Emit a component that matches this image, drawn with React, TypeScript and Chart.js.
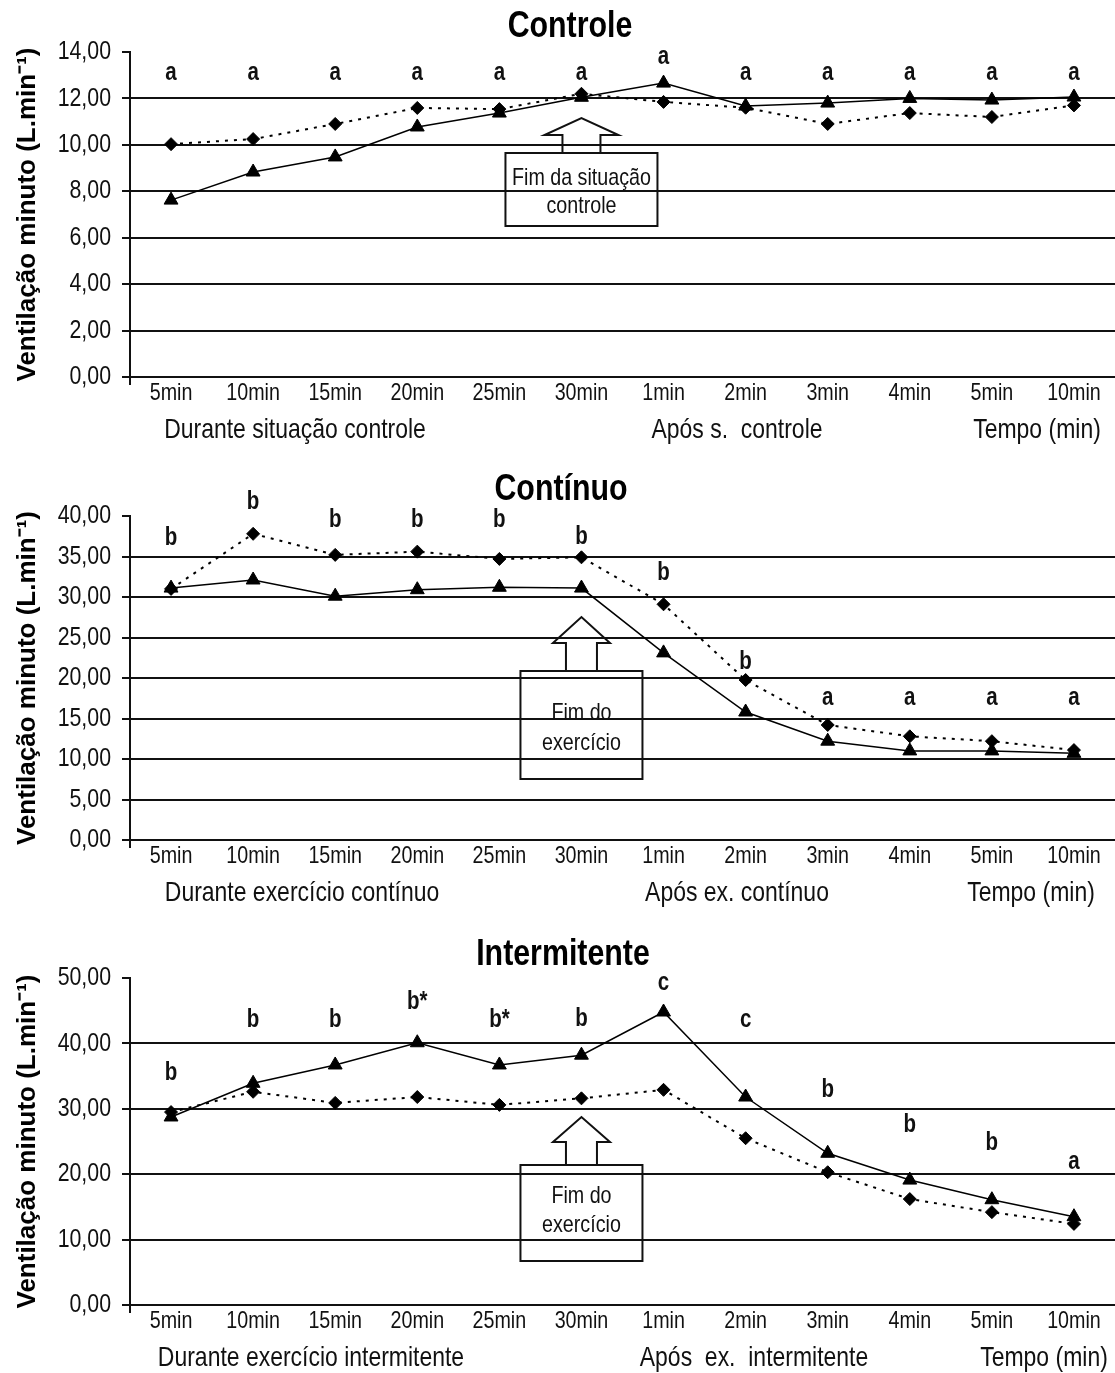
import React, { useEffect, useRef } from 'react';
import { Chart, registerables } from 'chart.js';

Chart.register(...registerables);

// ---------------- data ----------------
const categories = ['5min', '10min', '15min', '20min', '25min', '30min', '1min', '2min', '3min', '4min', '5min', '10min'];

// Controle
const controleTri = [7.62, 8.83, 9.48, 10.77, 11.37, 12.05, 12.66, 11.67, 11.8, 12.0, 11.93, 12.06];
const controleDia = [10.03, 10.25, 10.9, 11.59, 11.54, 12.2, 11.85, 11.6, 10.9, 11.37, 11.2, 11.7];
const controleLetters = ['a', 'a', 'a', 'a', 'a', 'a', 'a', 'a', 'a', 'a', 'a', 'a'];
const controleLetterY = [13.1, 13.1, 13.1, 13.1, 13.1, 13.1, 13.78, 13.1, 13.1, 13.1, 13.1, 13.1];
const controleTicks = { max: 14, step: 2 };

// Contínuo
const continuoTri = [31.1, 32.1, 30.1, 30.9, 31.2, 31.1, 23.1, 15.8, 12.2, 11.0, 11.0, 10.7];
const continuoDia = [31.0, 37.8, 35.2, 35.6, 34.7, 34.9, 29.1, 19.75, 14.2, 12.8, 12.2, 11.1];
const continuoLetters = ['b', 'b', 'b', 'b', 'b', 'b', 'b', 'b', 'a', 'a', 'a', 'a'];
const continuoLetterY = [37.3, 41.7, 39.5, 39.5, 39.5, 37.4, 33.0, 22.0, 17.5, 17.5, 17.5, 17.5];
const continuoTicks = { max: 40, step: 5 };

// Intermitente
const intermTri = [28.75, 33.9, 36.7, 40.1, 36.7, 38.2, 44.8, 31.8, 23.2, 19.1, 16.1, 13.5];
const intermDia = [29.5, 32.6, 30.9, 31.8, 30.6, 31.6, 32.9, 25.5, 20.3, 16.2, 14.2, 12.4];
const intermLetters = ['b', 'b', 'b', 'b*', 'b*', 'b', 'c', 'c', 'b', 'b', 'b', 'a'];
const intermLetterY = [35.5, 43.6, 43.6, 46.3, 43.6, 43.7, 49.2, 43.6, 32.9, 27.5, 24.8, 21.9];
const intermTicks = { max: 50, step: 10 };

const yTitle = 'Ventilação minuto (L.min⁻¹)';

// ---------------- styling / layout ----------------
const SANS = "'Liberation Sans', Arial, sans-serif";
const NARROW_X = 0.82; // horizontal squeeze to imitate a narrow face
const INK = '#111';

type Panel = {
  title: string;
  titleX: number;
  titleBase: number;
  top: number;
  h: number;
  padTop: number;
  xAxisH: number;
  tri: number[];
  dia: number[];
  letters: string[];
  letterY: number[];
  max: number;
  step: number;
  groups: { text: string; x: number }[];
  groupBase: number;
  box: {
    tip: number;
    shoulder: number;
    boxTop: number;
    boxBottom: number;
    boxHalf: number;
    shaftHalf: number;
    headHalf: number;
    lines: string[];
    lineBase: number[];
  };
};

const panels: Panel[] = [
  {
    title: 'Controle', titleX: 570, titleBase: 37, top: 0, h: 460, padTop: 52, xAxisH: 83,
    tri: controleTri, dia: controleDia, letters: controleLetters, letterY: controleLetterY,
    max: controleTicks.max, step: controleTicks.step,
    groups: [
      { text: 'Durante situação controle', x: 295 },
      { text: 'Após s.  controle', x: 737 },
      { text: 'Tempo (min)', x: 1037 },
    ],
    groupBase: 438,
    box: { tip: 118, shoulder: 135, boxTop: 153, boxBottom: 226, boxHalf: 76, shaftHalf: 19, headHalf: 37, lines: ['Fim da situação', 'controle'], lineBase: [185, 213] },
  },
  {
    title: 'Contínuo', titleX: 561, titleBase: 40, top: 460, h: 460, padTop: 56, xAxisH: 80,
    tri: continuoTri, dia: continuoDia, letters: continuoLetters, letterY: continuoLetterY,
    max: continuoTicks.max, step: continuoTicks.step,
    groups: [
      { text: 'Durante exercício contínuo', x: 302 },
      { text: 'Após ex. contínuo', x: 737 },
      { text: 'Tempo (min)', x: 1031 },
    ],
    groupBase: 441,
    box: { tip: 157, shoulder: 183, boxTop: 211, boxBottom: 319, boxHalf: 61, shaftHalf: 15.5, headHalf: 28.5, lines: ['Fim do', 'exercício'], lineBase: [260, 290] },
  },
  {
    title: 'Intermitente', titleX: 563, titleBase: 45, top: 920, h: 453, padTop: 58, xAxisH: 68,
    tri: intermTri, dia: intermDia, letters: intermLetters, letterY: intermLetterY,
    max: intermTicks.max, step: intermTicks.step,
    groups: [
      { text: 'Durante exercício intermitente', x: 311 },
      { text: 'Após  ex.  intermitente', x: 754 },
      { text: 'Tempo (min)', x: 1044 },
    ],
    groupBase: 446,
    box: { tip: 197, shoulder: 222, boxTop: 245, boxBottom: 341, boxHalf: 61, shaftHalf: 15.5, headHalf: 28.5, lines: ['Fim do', 'exercício'], lineBase: [283, 312] },
  },
];

function squeezed(ctx: CanvasRenderingContext2D, text: string, x: number, y: number) {
  ctx.save();
  ctx.translate(x, y);
  ctx.scale(NARROW_X, 1);
  ctx.fillText(text, 0, 0);
  ctx.restore();
}

function makeDecor(p: Panel) {
  return {
    id: 'decor',
    afterDatasetsDraw(chart: any) {
      const ctx: CanvasRenderingContext2D = chart.ctx;
      const xs = chart.scales.x;
      const ys = chart.scales.y;
      const area = chart.chartArea;
      ctx.save();
      // y axis extension below zero
      ctx.strokeStyle = INK;
      ctx.lineWidth = 2;
      ctx.beginPath();
      ctx.moveTo(area.left, area.bottom);
      ctx.lineTo(area.left, area.bottom + 8);
      ctx.stroke();

      ctx.fillStyle = INK;

      // y tick labels (from the scale's own ticks)
      ctx.font = `26px ${SANS}`;
      ctx.textAlign = 'right';
      ctx.textBaseline = 'middle';
      ys.ticks.forEach((t: any) => {
        squeezed(ctx, Number(t.value).toFixed(2).replace('.', ','), area.left - 19, ys.getPixelForValue(t.value));
      });

      // x tick labels (category scale)
      ctx.font = `24px ${SANS}`;
      ctx.textAlign = 'center';
      ctx.textBaseline = 'alphabetic';
      xs.ticks.forEach((t: any, i: number) => {
        squeezed(ctx, String(xs.getLabelForValue(t.value)), xs.getPixelForValue(i), area.bottom + 23);
      });

      // significance letters
      ctx.font = `bold 25px ${SANS}`;
      ctx.textAlign = 'center';
      ctx.textBaseline = 'middle';
      p.letters.forEach((l, i) => {
        squeezed(ctx, l, xs.getPixelForValue(i), ys.getPixelForValue(p.letterY[i]));
      });

      // arrow + box
      const b = p.box;
      const cx = xs.getPixelForValue(5);
      ctx.lineWidth = 2;
      ctx.strokeStyle = INK;
      ctx.beginPath();
      ctx.moveTo(cx - b.shaftHalf, b.boxTop);
      ctx.lineTo(cx - b.shaftHalf, b.shoulder);
      ctx.lineTo(cx - b.headHalf, b.shoulder);
      ctx.lineTo(cx, b.tip);
      ctx.lineTo(cx + b.headHalf, b.shoulder);
      ctx.lineTo(cx + b.shaftHalf, b.shoulder);
      ctx.lineTo(cx + b.shaftHalf, b.boxTop);
      ctx.stroke();
      ctx.strokeRect(cx - b.boxHalf, b.boxTop, b.boxHalf * 2, b.boxBottom - b.boxTop);
      ctx.font = `24px ${SANS}`;
      ctx.textBaseline = 'alphabetic';
      b.lines.forEach((t, i) => squeezed(ctx, t, cx, b.lineBase[i]));

      // title
      ctx.font = `bold 37px ${SANS}`;
      ctx.fillStyle = '#000';
      squeezed(ctx, p.title, p.titleX, p.titleBase);

      // group labels
      ctx.font = `28px ${SANS}`;
      ctx.fillStyle = INK;
      p.groups.forEach((g) => squeezed(ctx, g.text, g.x, p.groupBase));

      // y title
      ctx.save();
      ctx.translate(28, (area.top + area.bottom) / 2);
      ctx.rotate(-Math.PI / 2);
      ctx.font = `bold 26px ${SANS}`;
      ctx.fillStyle = '#000';
      ctx.textBaseline = 'middle';
      ctx.fillText(yTitle, 0, 0);
      ctx.restore();

      ctx.restore();
    },
  };
}

function makeConfig(p: Panel): any {
  return {
    type: 'line',
    data: {
      labels: categories,
      datasets: [
        {
          data: p.tri,
          borderColor: '#000',
          backgroundColor: '#000',
          borderWidth: 1.5,
          pointStyle: 'triangle',
          pointRadius: 8,
          pointBorderWidth: 1,
          tension: 0,
          clip: false,
        },
        {
          data: p.dia,
          borderColor: '#000',
          backgroundColor: '#000',
          borderWidth: 2,
          borderDash: [3, 6],
          pointStyle: 'rectRot',
          pointRadius: 6.5,
          pointBorderWidth: 1,
          tension: 0,
          clip: false,
        },
      ],
    },
    options: {
      responsive: false,
      animation: false,
      events: [],
      layout: { autoPadding: false, padding: { top: p.padTop, left: 0, right: 0, bottom: 0 } },
      plugins: { legend: { display: false }, tooltip: { enabled: false }, title: { display: false } },
      scales: {
        x: {
          type: 'category',
          offset: true,
          grid: { display: false },
          border: { display: false },
          ticks: { display: false, autoSkip: false, maxRotation: 0 },
          afterFit: (s: any) => { s.height = p.xAxisH; },
        },
        y: {
          min: 0,
          max: p.max,
          ticks: { display: false, stepSize: p.step },
          grid: {
            color: (c: any) => (c.tick && c.tick.value === p.max ? 'rgba(0,0,0,0)' : INK),
            lineWidth: 2,
            tickLength: 8,
            tickColor: INK,
            tickWidth: 2,
          },
          border: { display: true, color: INK, width: 2 },
          afterFit: (s: any) => { s.width = 130; },
        },
      },
    },
    plugins: [makeDecor(p)],
  };
}

export default function App() {
  const r0 = useRef<HTMLCanvasElement>(null);
  const r1 = useRef<HTMLCanvasElement>(null);
  const r2 = useRef<HTMLCanvasElement>(null);
  const refs = [r0, r1, r2];

  useEffect(() => {
    const charts = panels.map((p, i) => new Chart(refs[i].current as HTMLCanvasElement, makeConfig(p)));
    return () => charts.forEach((c) => c.destroy());
  }, []);

  return (
    <div style={{ position: 'absolute', left: 0, top: 0, width: 1115, height: 1373, background: '#fff' }}>
      {panels.map((p, i) => (
        <canvas
          key={i}
          ref={refs[i]}
          width={1115}
          height={p.h}
          style={{ position: 'absolute', left: 0, top: p.top, width: 1115, height: p.h }}
        />
      ))}
    </div>
  );
}
